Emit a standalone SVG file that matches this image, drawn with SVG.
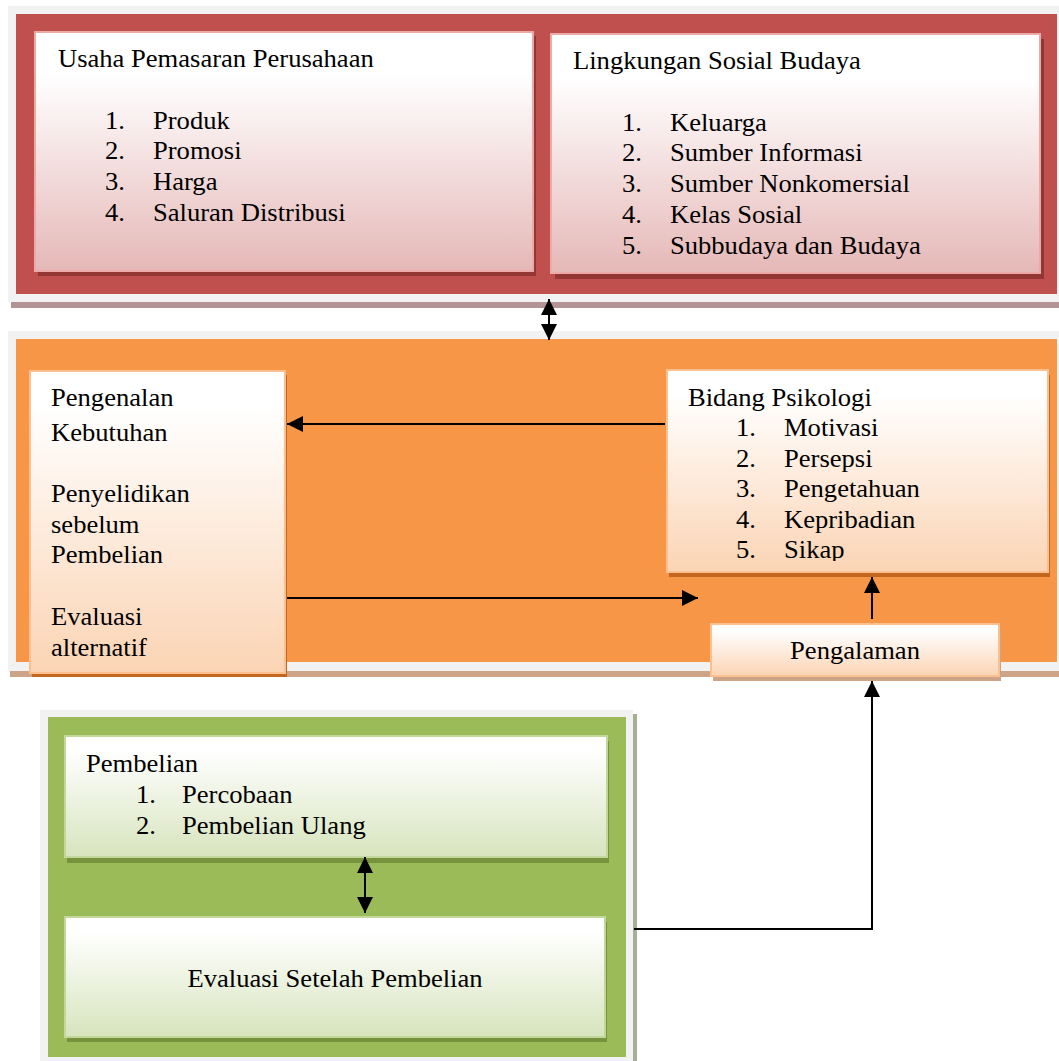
<svg xmlns="http://www.w3.org/2000/svg" width="1059" height="1061" viewBox="0 0 1059 1061">
<style>
text{font-family:"Liberation Serif","Times New Roman",serif;font-size:24.5px;fill:#000}
.bd{fill:#F2F2F2}
.cn{stroke:#000;stroke-width:2;fill:none}
.rb{fill:url(#gr);stroke:#EBA9A8;stroke-width:2}
.ob{fill:url(#go);stroke:#FAC08F;stroke-width:2}
.gb{fill:url(#gg);stroke:#C3D69B;stroke-width:2}
</style>
<defs>
<linearGradient id="gr" x1="0" y1="0" x2="0" y2="1"><stop offset="0" stop-color="#FFFFFF"/><stop offset="0.18" stop-color="#FFFFFF"/><stop offset="1" stop-color="#E5B8B7"/></linearGradient>
<linearGradient id="go" x1="0" y1="0" x2="0" y2="1"><stop offset="0" stop-color="#FFFFFF"/><stop offset="0.12" stop-color="#FFFFFF"/><stop offset="1" stop-color="#FBD4B4"/></linearGradient>
<linearGradient id="gg" x1="0" y1="0" x2="0" y2="1"><stop offset="0" stop-color="#FFFFFF"/><stop offset="0.12" stop-color="#FFFFFF"/><stop offset="1" stop-color="#D7E4BD"/></linearGradient>
<marker id="ah" markerUnits="userSpaceOnUse" markerWidth="18" markerHeight="16" refX="16" refY="8" orient="auto-start-reverse"><path d="M0,0 L16,8 L0,16 Z" fill="#000"/></marker>
<clipPath id="cpb"><rect x="667" y="370" width="381" height="191"/></clipPath>
</defs>

<g id="panel-top">
<rect x="11" y="10" width="1048" height="298" fill="#B39393"/>
<rect class="bd" x="8" y="6" width="1051" height="296"/>
<rect x="16" y="14" width="1041" height="280" fill="#C0504D"/>
</g>
<g id="panel-mid">
<rect x="10" y="335" width="1049" height="342" fill="#CDA487"/>
<rect class="bd" x="8" y="331" width="1051" height="340"/>
<rect x="16" y="339" width="1041" height="323" fill="#F79646"/>
</g>
<g id="panel-bottom">
<rect x="44" y="714" width="593" height="347" fill="#A7AE98"/>
<rect class="bd" x="40" y="710" width="593" height="351"/>
<rect x="48" y="717" width="578" height="340" fill="#9BBB59"/>
</g>

<g id="node-usaha">
<rect x="38" y="36" width="498" height="240" fill="#943634"/>
<rect class="rb" x="35" y="32" width="498" height="239"/>
<text transform="translate(58,67) scale(1.085,1)">Usaha Pemasaran Perusahaan</text>
<text transform="translate(105,129) scale(1.085,1)">1.</text><text transform="translate(153,129) scale(1.085,1)">Produk</text>
<text transform="translate(105,159) scale(1.085,1)">2.</text><text transform="translate(153,159) scale(1.085,1)">Promosi</text>
<text transform="translate(105,190) scale(1.085,1)">3.</text><text transform="translate(153,190) scale(1.085,1)">Harga</text>
<text transform="translate(105,221) scale(1.085,1)">4.</text><text transform="translate(153,221) scale(1.085,1)">Saluran Distribusi</text>
</g>
<g id="node-lingkungan">
<rect x="555" y="39" width="489" height="240" fill="#943634"/>
<rect class="rb" x="551" y="34" width="489" height="239"/>
<text transform="translate(573,69) scale(1.085,1)">Lingkungan Sosial Budaya</text>
<text transform="translate(622,131) scale(1.085,1)">1.</text><text transform="translate(670,131) scale(1.085,1)">Keluarga</text>
<text transform="translate(622,161) scale(1.085,1)">2.</text><text transform="translate(670,161) scale(1.085,1)">Sumber Informasi</text>
<text transform="translate(622,192) scale(1.085,1)">3.</text><text transform="translate(670,192) scale(1.085,1)">Sumber Nonkomersial</text>
<text transform="translate(622,223) scale(1.085,1)">4.</text><text transform="translate(670,223) scale(1.085,1)">Kelas Sosial</text>
<text transform="translate(622,254) scale(1.085,1)">5.</text><text transform="translate(670,254) scale(1.085,1)">Subbudaya dan Budaya</text>
</g>
<g id="node-pengenalan">
<rect x="32" y="375" width="255" height="302" fill="#C3661F"/>
<rect class="ob" x="30" y="371" width="255" height="302"/>
<text transform="translate(51,406) scale(1.085,1)">Pengenalan</text>
<text transform="translate(51,441) scale(1.085,1)">Kebutuhan</text>
<text transform="translate(51,502) scale(1.085,1)">Penyelidikan</text>
<text transform="translate(51,533) scale(1.085,1)">sebelum</text>
<text transform="translate(51,563) scale(1.085,1)">Pembelian</text>
<text transform="translate(51,625) scale(1.085,1)">Evaluasi</text>
<text transform="translate(51,656) scale(1.085,1)">alternatif</text>
</g>
<g id="node-psikologi">
<rect x="669" y="375" width="381" height="202" fill="#C3661F"/>
<rect class="ob" x="667" y="370" width="381" height="202"/>
<g clip-path="url(#cpb)">
<text transform="translate(688,406) scale(1.085,1)">Bidang Psikologi</text>
<text transform="translate(736,436) scale(1.085,1)">1.</text><text transform="translate(784,436) scale(1.085,1)">Motivasi</text>
<text transform="translate(736,467) scale(1.085,1)">2.</text><text transform="translate(784,467) scale(1.085,1)">Persepsi</text>
<text transform="translate(736,497) scale(1.085,1)">3.</text><text transform="translate(784,497) scale(1.085,1)">Pengetahuan</text>
<text transform="translate(736,528) scale(1.085,1)">4.</text><text transform="translate(784,528) scale(1.085,1)">Kepribadian</text>
<text transform="translate(736,558) scale(1.085,1)">5.</text><text transform="translate(784,558) scale(1.085,1)">Sikap</text>
</g>
</g>
<g id="node-pengalaman">
<rect x="713" y="629" width="288" height="52" fill="#CDA487"/>
<rect class="ob" x="711" y="624" width="288" height="52"/>
<text transform="translate(855,659) scale(1.085,1)" text-anchor="middle">Pengalaman</text>
</g>
<g id="node-pembelian">
<rect x="67" y="741" width="542" height="122" fill="#76923C"/>
<rect class="gb" x="65" y="736" width="542" height="121"/>
<text transform="translate(86,772) scale(1.085,1)">Pembelian</text>
<text transform="translate(136,803) scale(1.085,1)">1.</text><text transform="translate(182,803) scale(1.085,1)">Percobaan</text>
<text transform="translate(136,834) scale(1.085,1)">2.</text><text transform="translate(182,834) scale(1.085,1)">Pembelian Ulang</text>
</g>
<g id="node-evaluasi">
<rect x="67" y="922" width="540" height="120" fill="#76923C"/>
<rect class="gb" x="65" y="917" width="540" height="120"/>
<text transform="translate(335,987) scale(1.085,1)" text-anchor="middle">Evaluasi Setelah Pembelian</text>
</g>

<g id="connectors">
<line class="cn" x1="549" y1="299" x2="549" y2="340" marker-start="url(#ah)" marker-end="url(#ah)"/>
<line class="cn" x1="665" y1="424" x2="287" y2="424" marker-end="url(#ah)"/>
<line class="cn" x1="287" y1="598" x2="698" y2="598" marker-end="url(#ah)"/>
<line class="cn" x1="872" y1="619" x2="872" y2="577" marker-end="url(#ah)"/>
<polyline class="cn" points="634,929 872,929 872,681" marker-end="url(#ah)"/>
<line class="cn" x1="365" y1="857" x2="365" y2="913" marker-start="url(#ah)" marker-end="url(#ah)"/>
</g>
</svg>
